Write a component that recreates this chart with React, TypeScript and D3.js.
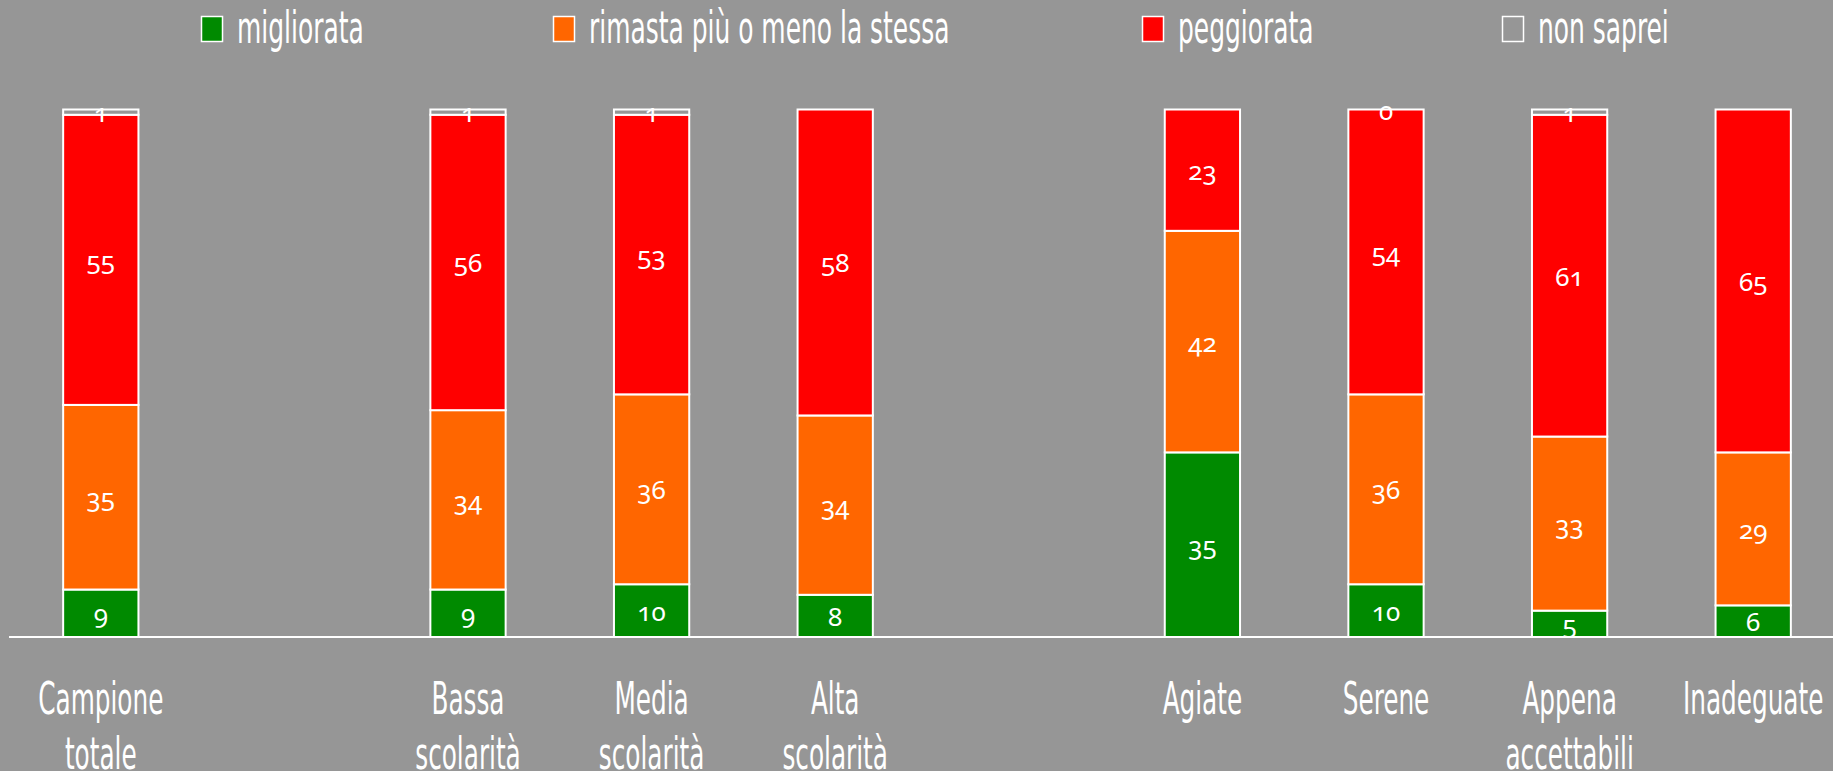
import { useMemo } from "react";
import * as d3 from "d3";

const categories = [
  ["Campione", "totale"],
  [],
  ["Bassa", "scolarità"],
  ["Media", "scolarità"],
  ["Alta", "scolarità"],
  [],
  ["Agiate"],
  ["Serene"],
  ["Appena", "accettabili"],
  ["Inadeguate"],
];

const seriesNames = ["migliorata", "rimasta più o meno la stessa", "peggiorata", "non saprei"];
const seriesColors = ["#008a00", "#ff6600", "#ff0000", "#969696"];

// null = empty slot / no label shown
const migliorata = [9, null, 9, 10, 8, null, 35, 10, 5, 6];
const rimasta = [35, null, 34, 36, 34, null, 42, 36, 33, 29];
const peggiorata = [55, null, 56, 53, 58, null, 23, 54, 61, 65];
const nonSaprei = [1, null, 1, 1, null, null, null, 0, 1, null];

const legendX = [201, 553, 1142, 1502];

const W = 1833;
const H = 771;
const BG = "#969696";
const labelFont = "'Liberation Sans Narrow', 'Arial Narrow', 'DejaVu Sans Condensed', sans-serif";
const numFont = "'Noto Sans', 'Open Sans', sans-serif";

export default function App() {
  const x = useMemo(
    () =>
      d3
        .scaleBand<number>()
        .domain(d3.range(categories.length))
        .range([9, 1845])
        .paddingInner(0.59)
        .paddingOuter(0.295),
    []
  );
  const y = useMemo(() => d3.scaleLinear().domain([0, 100]).range([637, 109.5]), []);

  const series = [migliorata, rimasta, peggiorata, nonSaprei];
  const rows = categories.map((_, i) => {
    const r: Record<string, number> = {};
    seriesNames.forEach((k, s) => (r[k] = series[s][i] ?? 0));
    return r;
  });
  const stacked = d3.stack<Record<string, number>>().keys(seriesNames)(rows);

  const bw = x.bandwidth();

  return (
    <svg
      width={W}
      height={H}
      style={{ position: "absolute", left: 0, top: 0, background: BG }}
    >
      <rect width={W} height={H} fill={BG} />

      {/* legend */}
      {seriesNames.map((name, s) => (
        <g key={name} transform={`translate(${legendX[s]},0)`}>
          <rect x={0.5} y={16.5} width={21} height={25} fill={seriesColors[s]} stroke="#fff" strokeWidth={1.5} />
          <text
            transform="translate(36,43) scale(0.63,1)"
            fontFamily={labelFont}
            fontSize={44}
            fill="#fff"
          >
            {name}
          </text>
        </g>
      ))}

      {/* bars */}
      {stacked.map((layer, s) => (
        <g key={layer.key}>
          {layer.map((d, i) => {
            const v = series[s][i];
            if (v === null) return null;
            const x0 = x(i)!;
            const top = y(d[1]);
            const bot = y(d[0]);
            return (
              <g key={i}>
                <rect
                  x={x0}
                  y={top}
                  width={bw}
                  height={Math.max(bot - top, 0)}
                  fill={seriesColors[s]}
                  stroke="#fff"
                  strokeWidth={2}
                />
                <text
                  x={x0 + bw / 2}
                  y={(top + bot) / 2}
                  textAnchor="middle"
                  dominantBaseline="central"
                  fontFamily={numFont}
                  fontSize={26}
                  fill="#fff"
                  style={{ fontVariantNumeric: "oldstyle-nums" }}
                >
                  {v}
                </text>
              </g>
            );
          })}
        </g>
      ))}

      {/* axis line */}
      <line x1={9} x2={W} y1={y(0)} y2={y(0)} stroke="#fff" strokeWidth={2} />

      {/* category labels */}
      {categories.map((lines, i) =>
        lines.map((t, j) => (
          <text
            key={`${i}-${j}`}
            transform={`translate(${x(i)! + bw / 2},${714 + j * 55}) scale(0.625,1)`}
            textAnchor="middle"
            fontFamily={labelFont}
            fontSize={44}
            fill="#fff"
          >
            {t}
          </text>
        ))
      )}
    </svg>
  );
}
